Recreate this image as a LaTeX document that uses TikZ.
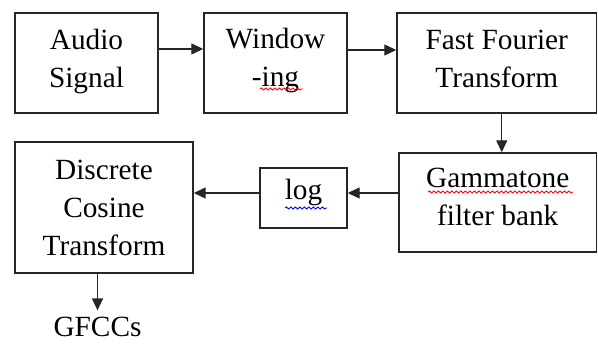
\documentclass[tikz,border=0pt]{standalone}
\usepackage{fontspec}
\setmainfont{Liberation Serif}
\newfontfamily\tnrfont{Liberation Serif}
\usetikzlibrary{arrows.meta,decorations.pathmorphing}
\newcommand\boxtxt[4]{\parbox[c][#2][t]{#1}{\centering\rule{0pt}{#3}#4\par}}
\begin{document}
\begin{tikzpicture}[x=1pt,y=-1pt,
  font=\tnrfont\fontsize{29.3}{38}\selectfont,
  blk/.style={draw=black!85, line width=1.4pt, inner sep=0pt},
  arr/.style={draw=black!85, line width=1.3pt, -{Triangle[length=12pt,width=11pt]}},
  squig/.style={decorate, decoration={snake, amplitude=1pt, segment length=4.5pt}, line width=0.9pt}]
\useasboundingbox (0,0) rectangle (598,344);
\node[blk] (audio) at (86.5,63) {\boxtxt{143pt}{100pt}{37pt}{Audio\\Signal}};
\node[blk] (win) at (275.5,63) {\boxtxt{143pt}{100pt}{36pt}{Window\\-ing}};
\node[blk] (fft) at (496.75,63) {\boxtxt{199.5pt}{100pt}{37pt}{Fast Fourier\\Transform}};
\node[blk] (gam) at (497.75,202.5) {\boxtxt{197.5pt}{99pt}{35pt}{Gammatone\\filter bank}};
\node[blk] (log) at (303.5,198) {\boxtxt{87pt}{60pt}{32pt}{log}};
\node[blk] (dct) at (104,207.5) {\boxtxt{178pt}{131pt}{38pt}{Discrete\\Cosine\\Transform}};
\node[inner sep=0pt, anchor=base] (gf) at (97.5,337) {GFCCs};
\coordinate (a1) at ([yshift=14pt]audio.east);
\coordinate (a2) at ([yshift=13pt]win.east);
\coordinate (a3) at ([xshift=5pt]fft.south);
\coordinate (a4) at ([yshift=9.5pt]gam.west);
\coordinate (a5) at ([yshift=5pt]log.west);
\coordinate (a6) at ([xshift=-6.5pt]dct.south);
\coordinate (a6e) at ([yshift=7pt]gf.north);
\draw[arr] (a1) -- (a1 -| win.west);
\draw[arr] (a2) -- (a2 -| fft.west);
\draw[arr] (a3) -- (a3 |- gam.north);
\draw[arr] (a4) -- (a4 -| log.east);
\draw[arr] (a5) -- (a5 -| dct.east);
\draw[arr] (a6) -- (a6 |- a6e);
\draw[squig, red] (260,89) -- (303,89);
\draw[squig, red] (428,192) -- (573,192);
\draw[squig, blue] (285,208) -- (327,208);
\end{tikzpicture}
\end{document}
